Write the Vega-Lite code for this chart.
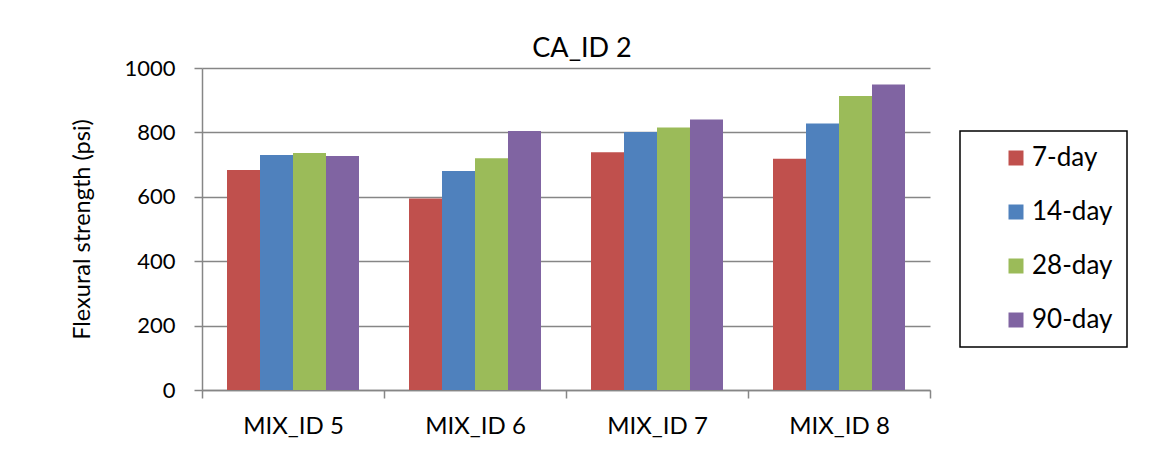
{
  "$schema": "https://vega.github.io/schema/vega-lite/v6.json",
  "width": 728,
  "height": 322,
  "autosize": {"type": "none"},
  "padding": {"left": 202, "top": 68, "right": 233, "bottom": 75},
  "background": "white",
  "title": {"text": "CA_ID 2", "fontSize": 27, "font": "Lato", "fontWeight": "normal", "color": "black", "offset": 4, "baseline": "bottom", "anchor": "middle", "frame": "group", "dx": 16, "dy": 37},
  "data": {"values": [
    {"mix": "MIX_ID 5", "age": "7-day", "value": 683},
    {"mix": "MIX_ID 5", "age": "14-day", "value": 730},
    {"mix": "MIX_ID 5", "age": "28-day", "value": 736},
    {"mix": "MIX_ID 5", "age": "90-day", "value": 727},
    {"mix": "MIX_ID 6", "age": "7-day", "value": 595},
    {"mix": "MIX_ID 6", "age": "14-day", "value": 680},
    {"mix": "MIX_ID 6", "age": "28-day", "value": 720},
    {"mix": "MIX_ID 6", "age": "90-day", "value": 804},
    {"mix": "MIX_ID 7", "age": "7-day", "value": 738},
    {"mix": "MIX_ID 7", "age": "14-day", "value": 801},
    {"mix": "MIX_ID 7", "age": "28-day", "value": 815},
    {"mix": "MIX_ID 7", "age": "90-day", "value": 840},
    {"mix": "MIX_ID 8", "age": "7-day", "value": 718},
    {"mix": "MIX_ID 8", "age": "14-day", "value": 828},
    {"mix": "MIX_ID 8", "age": "28-day", "value": 913},
    {"mix": "MIX_ID 8", "age": "90-day", "value": 949}
  ]},
  "mark": {"type": "bar"},
  "encoding": {
    "x": {
      "field": "mix", "type": "nominal",
      "sort": ["MIX_ID 5", "MIX_ID 6", "MIX_ID 7", "MIX_ID 8"],
      "scale": {"paddingInner": 0, "paddingOuter": 0},
      "axis": {
        "title": null, "labelAngle": 0, "labelFont": "Lato", "labelFontSize": 24, "labelColor": "black",
        "labelBaseline": "alphabetic",
        "tickBand": "extent", "tickSize": 8, "tickColor": "#868686", "tickWidth": 1.5,
        "domainColor": "#868686", "domainWidth": 1.5, "labelPadding": 35
      }
    },
    "xOffset": {
      "field": "age", "type": "nominal",
      "sort": ["7-day", "14-day", "28-day", "90-day"],
      "scale": {"paddingInner": 0, "paddingOuter": 0.7576}
    },
    "y": {
      "field": "value", "type": "quantitative",
      "scale": {"domain": [0, 1000], "nice": false},
      "axis": {
        "values": [0, 200, 400, 600, 800, 1000], "format": "d",
        "title": "Flexural strength (psi)", "titleFont": "Lato", "titleFontSize": 23.5, "titleFontWeight": "normal", "titleColor": "black",
        "titleX": -120, "titleY": 161, "titleAngle": -90, "titleAlign": "center", "titleBaseline": "middle",
        "labelFont": "Lato", "labelFontSize": 22, "labelColor": "black", "labelPadding": 19,
        "tickSize": 8, "tickColor": "#868686", "tickWidth": 1.5,
        "domainColor": "#868686", "domainWidth": 1.5,
        "grid": true, "gridColor": "#868686", "gridWidth": 1.5
      }
    },
    "color": {
      "field": "age", "type": "nominal",
      "sort": ["7-day", "14-day", "28-day", "90-day"],
      "scale": {"domain": ["7-day", "14-day", "28-day", "90-day"], "range": ["#C0504D", "#4F81BD", "#9BBB59", "#8064A2"]},
      "legend": {
        "title": null, "orient": "none", "legendX": 758, "legendY": 63,
        "strokeColor": "black", "padding": 14,
        "labelFont": "Lato", "labelFontSize": 26, "labelColor": "black",
        "symbolType": "square", "symbolSize": 225, "symbolStrokeWidth": 0, "symbolOpacity": 1,
        "rowPadding": 28, "symbolOffset": 29, "labelOffset": 3,
        "labelExpr": "datum.label + '         '"
      }
    }
  },
  "config": {"view": {"stroke": null}, "legend": {"strokeWidth": 1.5}}
}
